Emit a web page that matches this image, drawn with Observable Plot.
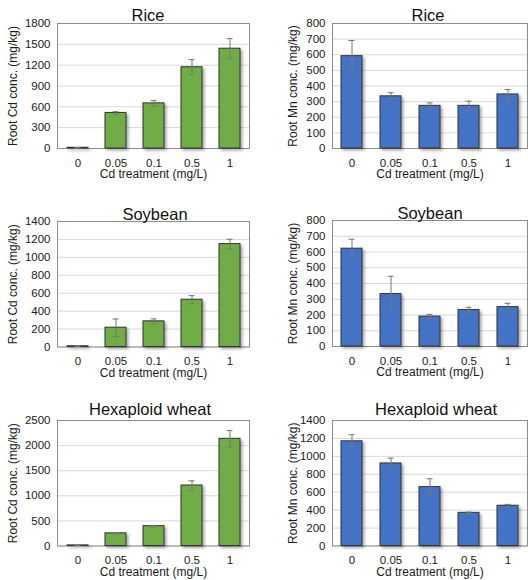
<!DOCTYPE html>
<html>
<head>
<meta charset="utf-8">
<script src="https://cdn.jsdelivr.net/npm/d3@7"></script>
<script src="https://cdn.jsdelivr.net/npm/@observablehq/plot@0.6"></script>
<style>
  html, body { margin: 0; padding: 0; background: #fff; }
  #root { position: relative; width: 528px; height: 580px; overflow: hidden; font-family: "Liberation Sans", Arial, sans-serif; }
  .panel { position: absolute; }
  .title { position: absolute; font-size: 16.5px; color: #111; white-space: nowrap; transform: translate(-50%, -50%); }
  .panel svg g[aria-label="bar"] { filter: drop-shadow(2px 2px 1.5px rgba(0,0,0,0.35)); }
</style>
</head>
<body>
<div id="root"></div>
<script>
const cats = ["0", "0.05", "0.1", "0.5", "1"];
const xLabel = "Cd treatment (mg/L)";
const cdLabel = "Root Cd conc. (mg/kg)";
const mnLabel = "Root Mn conc. (mg/kg)";

const titles = ["Rice", "Soybean", "Hexaploid wheat"];

const riceCd = [10, 512, 650, 1170, 1437];
const riceCdErr = [3, 18, 40, 110, 145];
const riceMn = [591, 334, 273, 273, 346];
const riceMnErr = [100, 23, 19, 30, 32];

const soyCd = [8, 215, 286, 527, 1148];
const soyCdErr = [2, 97, 28, 46, 54];
const soyMn = [621, 333, 190, 232, 250];
const soyMnErr = [60, 113, 14, 17, 24];

const wheatCd = [12, 252, 395, 1205, 2135];
const wheatCdErr = [3, 10, 15, 93, 165];
const wheatMn = [1168, 921, 657, 370, 449];
const wheatMnErr = [74, 59, 93, 8, 15];

const cdTicks = [
  [0, 300, 600, 900, 1200, 1500, 1800],
  [0, 200, 400, 600, 800, 1000, 1200, 1400],
  [0, 500, 1000, 1500, 2000, 2500]
];
const mnTicks = [
  [0, 100, 200, 300, 400, 500, 600, 700, 800],
  [0, 100, 200, 300, 400, 500, 600, 700, 800],
  [0, 200, 400, 600, 800, 1000, 1200, 1400]
];

const green = "#70AD47";
const blue = "#4472C4";

// layout (positions only)
const panels = [
  {vals: riceCd, err: riceCdErr, ticks: cdTicks[0], label: cdLabel, color: green, title: titles[0], col: 0, top: 23, bottom: 148, tx: 148, ty: 15},
  {vals: riceMn, err: riceMnErr, ticks: mnTicks[0], label: mnLabel, color: blue, title: titles[0], col: 1, top: 23, bottom: 148, tx: 428, ty: 15},
  {vals: soyCd, err: soyCdErr, ticks: cdTicks[1], label: cdLabel, color: green, title: titles[1], col: 0, top: 221, bottom: 346.5, tx: 155, ty: 214},
  {vals: soyMn, err: soyMnErr, ticks: mnTicks[1], label: mnLabel, color: blue, title: titles[1], col: 1, top: 220, bottom: 346, tx: 430, ty: 213},
  {vals: wheatCd, err: wheatCdErr, ticks: cdTicks[2], label: cdLabel, color: green, title: titles[2], col: 0, top: 420, bottom: 545.5, tx: 150, ty: 409},
  {vals: wheatMn, err: wheatMnErr, ticks: mnTicks[2], label: mnLabel, color: blue, title: titles[2], col: 1, top: 420, bottom: 545.5, tx: 436, ty: 409}
];

const root = document.getElementById("root");

for (const p of panels) {
  const data = cats.map((c, i) => ({cat: c, v: p.vals[i], lo: p.vals[i] - p.err[i], hi: p.vals[i] + p.err[i]}));
  const mt = 10, mb = 40;
  const left = p.col === 0 ? 0 : 264;
  const marginLeft = p.col === 0 ? 57 : 68;
  const marginRight = p.col === 0 ? 15 : 1;
  const labelOffset = p.col === 0 ? 44 : 39;
  const chart = Plot.plot({
    width: 264,
    height: (p.bottom - p.top) + mt + mb,
    marginTop: mt,
    marginBottom: mb,
    marginLeft,
    marginRight,
    style: {fontFamily: "Liberation Sans, Arial, sans-serif", fontSize: "11.5px", color: "#1a1a1a", background: "transparent"},
    x: {domain: cats, paddingInner: 0.46, paddingOuter: 0.23, label: null},
    y: {domain: [p.ticks[0], p.ticks[p.ticks.length - 1]], label: null},
    marks: [
      Plot.gridY(p.ticks, {stroke: "#d9d9d9", strokeOpacity: 1}),
      Plot.frame({stroke: "#8c8c8c"}),
      Plot.barY(data, {x: "cat", y: "v", fill: p.color, stroke: "#333", strokeWidth: 1}),
      Plot.ruleX(data, {x: "cat", y1: "lo", y2: "hi", stroke: "#777", strokeWidth: 1}),
      Plot.tickY(data, {x: "cat", y: "hi", stroke: "#777", strokeWidth: 1, insetLeft: 7.5, insetRight: 7.5}),
      Plot.tickY(data, {x: "cat", y: "lo", stroke: "#777", strokeWidth: 1, insetLeft: 7.5, insetRight: 7.5}),
      Plot.axisY(p.ticks, {tickSize: 0, tickPadding: 7, fontSize: 11.5, tickFormat: d => String(d), label: null}),
      Plot.axisX({tickSize: 0, tickPadding: 10, fontSize: 11.5, label: null}),
      Plot.text([p.label], {text: d => d, frameAnchor: "left", dx: -labelOffset, rotate: -90, textAnchor: "middle", lineAnchor: "middle", fontSize: 12, fill: "#1a1a1a"}),
      Plot.text([xLabel], {text: d => d, frameAnchor: "bottom", dy: 26, textAnchor: "middle", lineAnchor: "middle", fontSize: 12, fill: "#1a1a1a"})
    ]
  });
  const holder = document.createElement("div");
  holder.className = "panel";
  holder.style.left = left + "px";
  holder.style.top = (p.top - mt) + "px";
  holder.appendChild(chart);
  root.appendChild(holder);

  const t = document.createElement("div");
  t.className = "title";
  t.textContent = p.title;
  t.style.left = p.tx + "px";
  t.style.top = p.ty + "px";
  root.appendChild(t);
}
</script>
</body>
</html>
